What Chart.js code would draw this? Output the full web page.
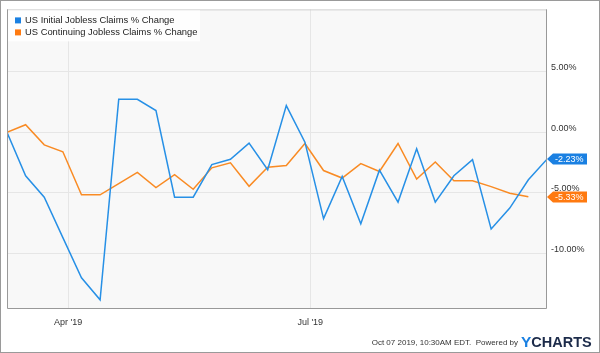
<!DOCTYPE html>
<html>
<head>
<meta charset="utf-8">
<script src="https://cdn.jsdelivr.net/npm/chart.js@4.4.0/dist/chart.umd.min.js"></script>
<style>
  html, body { margin: 0; padding: 0; background: #fff; }
  #wrap { width: 600px; height: 353px; }
</style>
</head>
<body>
<div id="wrap"><canvas id="claims"></canvas></div>
<script>
// weekly dates (week ending), Mar - Sep 2019
const weekDates = [
  '2019-03-09', '2019-03-16', '2019-03-23', '2019-03-30',
  '2019-04-06', '2019-04-13', '2019-04-20', '2019-04-27',
  '2019-05-04', '2019-05-11', '2019-05-18', '2019-05-25',
  '2019-06-01', '2019-06-08', '2019-06-15', '2019-06-22', '2019-06-29',
  '2019-07-06', '2019-07-13', '2019-07-20', '2019-07-27',
  '2019-08-03', '2019-08-10', '2019-08-17', '2019-08-24', '2019-08-31',
  '2019-09-07', '2019-09-14', '2019-09-21', '2019-09-28'
];
const initialClaims = [
  0, -3.59, -5.36, -8.7, -12.02, -13.84, 2.72, 2.72, 1.79, -5.36,
  -5.36, -2.67, -2.23, -0.9, -3.1, 2.2, -0.82, -7.13, -3.65, -7.56,
  -3.13, -5.77, -1.36, -5.77, -3.59, -2.26, -7.99, -6.26, -3.92, -2.23
];
const continuingClaims = [
  0, 0.62, -1.04, -1.61, -5.17, -5.17, -4.24, -3.32, -4.57, -3.51,
  -4.71, -2.94, -2.53, -4.46, -2.89, -2.75, -0.93, -3.16, -3.78, -2.59,
  -3.24, -0.93, -3.86, -2.45, -4.0, -4.0, -4.49, -5.03, -5.33
];
const seriesNames = ['US Initial Jobless Claims % Change', 'US Continuing Jobless Claims % Change'];
const tickDates = ['2019-04-01', '2019-07-01'];
const tickLabels = ["Apr '19", "Jul '19"];
const yTicks = [5, 0, -5, -10];

const lineColors = ['#2790e6', '#f98b24'];
const tagColors = ['#1a80e2', '#ff7a10'];
const FONT = "'Liberation Sans', Arial, sans-serif";

const t0 = Date.parse(weekDates[0] + 'T00:00:00Z');
const dayOf = d => (Date.parse(d + 'T00:00:00Z') - t0) / 86400000;
const toPoints = vals => vals.map((v, i) => ({ x: dayOf(weekDates[i]), y: v }));

Chart.defaults.font.family = FONT;
Chart.defaults.font.size = 9;

const decorations = {
  id: 'decorations',
  beforeDraw(chart) {
    const { ctx, chartArea: a } = chart;
    ctx.save();
    ctx.fillStyle = '#ffffff';
    ctx.fillRect(0, 0, chart.width, chart.height);
    ctx.fillStyle = '#f8f8f8';
    ctx.fillRect(a.left, a.top, a.right - a.left, a.bottom - a.top);
    ctx.restore();
  },
  afterDatasetsDraw(chart) {
    const { ctx, chartArea: a } = chart;
    ctx.save();
    // plot border
    ctx.lineWidth = 1;
    ctx.strokeStyle = '#d0d0d0';
    ctx.beginPath();
    ctx.moveTo(a.left, a.top + 0.5);
    ctx.lineTo(a.right, a.top + 0.5);
    ctx.stroke();
    ctx.strokeStyle = '#999';
    ctx.beginPath();
    ctx.moveTo(a.left + 0.5, a.top);
    ctx.lineTo(a.left + 0.5, a.bottom - 0.5);
    ctx.lineTo(a.right - 0.5, a.bottom - 0.5);
    ctx.lineTo(a.right - 0.5, a.top);
    ctx.stroke();

    // legend box
    ctx.fillStyle = 'rgba(255,255,255,0.85)';
    ctx.fillRect(a.left + 1, a.top + 1, 192, 31);
    ctx.font = '9.4px ' + FONT;
    ctx.textBaseline = 'middle';
    ctx.textAlign = 'left';
    chart.data.datasets.forEach((ds, i) => {
      const y = a.top + 11 + i * 12;
      ctx.fillStyle = tagColors[i];
      ctx.fillRect(a.left + 8, y - 3, 6, 6);
      ctx.fillStyle = '#222';
      ctx.fillText(ds.label, a.left + 18, y + 0.5);
    });

    // last value tags
    const ys = chart.scales.y;
    ctx.font = '9px ' + FONT;
    chart.data.datasets.forEach((ds, i) => {
      const last = ds.data[ds.data.length - 1].y;
      const y = Math.round(ys.getPixelForValue(last));
      const x = a.right;
      ctx.fillStyle = tagColors[i];
      ctx.beginPath();
      ctx.moveTo(x, y);
      ctx.lineTo(x + 6, y - 5.5);
      ctx.lineTo(x + 40, y - 5.5);
      ctx.lineTo(x + 40, y + 5.5);
      ctx.lineTo(x + 6, y + 5.5);
      ctx.closePath();
      ctx.fill();
      ctx.fillStyle = '#fff';
      ctx.fillText(last.toFixed(2) + '%', x + 8, y + 0.5);
    });
    ctx.restore();
  },
  afterDraw(chart) {
    const { ctx } = chart;
    ctx.save();
    // footer
    ctx.textBaseline = 'alphabetic';
    ctx.textAlign = 'right';
    ctx.fillStyle = '#333';
    ctx.font = '8px ' + FONT;
    ctx.fillText('Oct 07 2019, 10:30AM EDT.  Powered by', 518, 345);
    ctx.textAlign = 'left';
    ctx.font = 'bold 15.5px ' + FONT;
    ctx.fillStyle = '#1a80e2';
    ctx.fillText('Y', 521, 347);
    const yw = ctx.measureText('Y').width;
    ctx.font = 'bold 14.5px ' + FONT;
    ctx.fillStyle = '#1c2b4a';
    ctx.fillText('CHARTS', 521 + yw, 347);
    // outer frame
    ctx.strokeStyle = '#9a9a9a';
    ctx.lineWidth = 1;
    ctx.strokeRect(0.5, 0.5, chart.width - 1, chart.height - 1);
    ctx.restore();
  }
};

const ctx = document.getElementById('claims').getContext('2d');
const claimsChart = new Chart(ctx, {
  type: 'line',
  data: {
    datasets: [{
      label: seriesNames[0],
      data: toPoints(initialClaims),
      borderColor: lineColors[0],
      borderWidth: 1.5,
      pointRadius: 0,
      tension: 0,
      fill: false
    }, {
      label: seriesNames[1],
      data: toPoints(continuingClaims),
      borderColor: lineColors[1],
      borderWidth: 1.5,
      pointRadius: 0,
      tension: 0,
      fill: false
    }]
  },
  options: {
    responsive: true,
    maintainAspectRatio: false,
    animation: false,
    layout: { padding: { left: 7, top: 5, right: 0, bottom: 0 } },
    scales: {
      x: {
        type: 'linear',
        min: 0,
        max: dayOf(weekDates[weekDates.length - 1]),
        afterBuildTicks: s => { s.ticks = tickDates.map(d => ({ value: dayOf(d) })); },
        afterFit: s => { s.height = 44; },
        ticks: {
          callback: (v, i) => tickLabels[i],
          autoSkip: false,
          maxRotation: 0,
          color: '#333',
          padding: 8,
          font: { size: 9 }
        },
        grid: { color: '#e6e6e6', drawTicks: false },
        border: { display: false }
      },
      y: {
        position: 'right',
        min: -14.6,
        max: 10.15,
        afterBuildTicks: s => { s.ticks = yTicks.map(v => ({ value: v })); },
        afterFit: s => { s.width = 53; },
        ticks: {
          callback: v => v.toFixed(2) + '%',
          color: '#333',
          padding: 4,
          labelOffset: -4,
          font: { size: 9 }
        },
        grid: { color: '#e6e6e6', drawTicks: false },
        border: { display: false }
      }
    },
    plugins: {
      legend: { display: false },
      tooltip: { enabled: false }
    }
  },
  plugins: [decorations]
});
</script>
</body>
</html>
